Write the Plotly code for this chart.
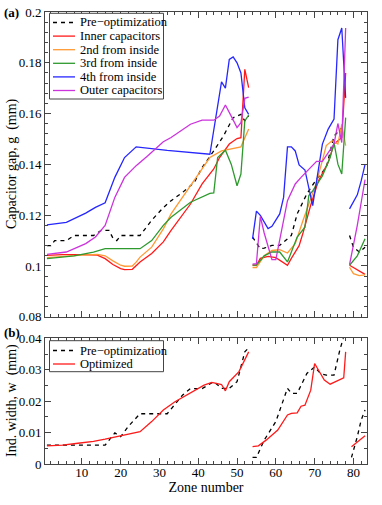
import plotly.graph_objects as go

# ---- panel (a): capacitor gap g (mm) vs zone number; None separates the three sections
zone_pre = [1, 2, 3, 6, 8, 13, 15, 17, 18, 19, 20, 25, 28, 31, 33, 36, 39, 41, 44, 46.5, 49, 51, 52, 53, None,
            54, 56, 57, 59, 61, 64, 65.5, 68, 70.5, 73, 75, 77, 78, None,
            79, 80, 81.5, 83]
gap_pre = [0.108, 0.108, 0.110, 0.110, 0.112, 0.112, 0.114, 0.114, 0.111, 0.110, 0.112, 0.112, 0.118, 0.123,
           0.1257, 0.129, 0.1329, 0.1388, 0.1453, 0.1512, 0.1584, 0.1597, 0.1571, 0.159, None,
           0.1114, 0.1068, 0.107, 0.1081, 0.1081, 0.112, 0.1205, 0.1284, 0.1342, 0.1388, 0.1512, 0.1542, 0.156, None,
           0.112, 0.1074, 0.1055, 0.1074]

zone_inner = [1, 5, 10, 14, 16, 18, 20, 21, 23, 24, 25, 28, 31, 33, 36, 38, 41, 44, 45.5, 48, 50, 51, 52, 53, None,
              54, 55, 56, 58, 60, 62, 63, 64, 66, 67, 68, 69, 71, 73.5, 75, 77, 78, None,
              79, 81, 83]
gap_inner = [0.1042, 0.1045, 0.1045, 0.1043, 0.1029, 0.1006, 0.0990, 0.0986, 0.0987, 0.1000, 0.1016, 0.1049,
             0.1095, 0.114, 0.120, 0.1244, 0.1323, 0.1382, 0.1427, 0.148, 0.1502, 0.1505, 0.1774, 0.1702, None,
             0.1003, 0.1003, 0.103, 0.1038, 0.1033, 0.1015, 0.1003, 0.103, 0.108, 0.113, 0.119, 0.124, 0.1336,
             0.1408, 0.148, 0.1506, 0.176, None,
             0.1003, 0.0985, 0.0967]

zone_2nd = [1, 5, 10, 14, 16, 18, 20, 21, 23, 24, 25, 28, 31, 33, 38, 43, 46, 51, 53, None,
            54, 55, 57, 59, 61, 63, 65, 67, 70.5, 73, 74.5, 76, 77, 78, None,
            79, 80, 81.5, 83]
gap_2nd = [0.1033, 0.1038, 0.1043, 0.1046, 0.1040, 0.102, 0.1003, 0.0999, 0.1000, 0.1015, 0.1035, 0.1074,
           0.1146, 0.1205, 0.1316, 0.1427, 0.1453, 0.1469, 0.1539, None,
           0.0994, 0.0994, 0.104, 0.1061, 0.1064, 0.1051, 0.1088, 0.1179, 0.1329, 0.1474, 0.1493, 0.148,
           0.1558, 0.1474, None,
           0.0995, 0.097, 0.0962, 0.0965]

zone_3rd = [1, 8, 13, 16, 25, 28, 31, 33, 38, 43, 44, 45, 47, 48.5, 50, 51, 52, 53, None,
            54, 55, 57, 59, 61, 63, 65.5, 67.5, 68.5, 69.5, 72, 74, 75, 76, 77, 78, None,
            79, 81, 83]
gap_3rd = [0.1029, 0.1040, 0.1055, 0.1068, 0.1068, 0.110, 0.116, 0.1192, 0.1251, 0.1286, 0.1288, 0.1427,
           0.1456, 0.1401, 0.1316, 0.1362, 0.1571, 0.1594, None,
           0.1003, 0.1003, 0.104, 0.1055, 0.1055, 0.1016, 0.1114, 0.1153, 0.1277, 0.1296, 0.1355, 0.1427,
           0.1486, 0.1401, 0.1362, 0.1584, None,
           0.1003, 0.104, 0.1107]

zone_4th = [1, 6, 11, 13.5, 16, 18.5, 21, 24, 32, 43, 46, 47, 48, 49, 50, 51, 52, 53, None,
            54, 55, 56, 58, 59, 61, 62, 63, 64, 65, 66, 67.5, 69.5, 72, 73.5, 75, 76, 77, 78, None,
            79, 80, 81, 82, 83]
gap_4th = [0.1162, 0.1172, 0.1208, 0.1231, 0.1249, 0.1349, 0.1427, 0.1469, 0.1455, 0.144, 0.1725, 0.170,
           0.1813, 0.1823, 0.180, 0.176, 0.1623, 0.1597, None,
           0.1107, 0.1216, 0.1199, 0.1147, 0.1156, 0.1205, 0.127, 0.1469, 0.1469, 0.1453, 0.1398, 0.1378,
           0.1238, 0.148, 0.1539, 0.1578, 0.1891, 0.1937, 0.1662, None,
           0.1225, 0.125, 0.128, 0.1335, 0.140]

zone_outer = [1, 6, 11, 13.5, 16, 18.5, 21, 24, 27, 31, 33, 38, 41, 44, 45.5, 47, 48.5, 50, 51, 52, 53, None,
              54, 55, 56, 57, 59, 60, 63, 65, 66.5, 68.5, 70.5, 72, 73.5, 75, 76, 77, 78, None,
              79, 80, 81, 82, 83]
gap_outer = [0.1046, 0.1055, 0.1088, 0.1114, 0.116, 0.127, 0.1349, 0.1395, 0.1434, 0.1489, 0.1506, 0.1558,
             0.1574, 0.1574, 0.159, 0.1634, 0.159, 0.1545, 0.1564, 0.166, 0.1665, None,
             0.1007, 0.1009, 0.1195, 0.113, 0.1025, 0.1025, 0.1257, 0.1323, 0.1349, 0.1382, 0.1412, 0.1412,
             0.1447, 0.148, 0.1561, 0.1486, 0.1937, None,
             0.1005, 0.108, 0.116, 0.125, 0.134]

# ---- panel (b): inductor width w (mm)
zone_w_pre = [1, 16, 18.5, 20, 22, 25, 32, 36, 38, 41, 44, 46, 48, 50, 52, 53, None,
              54, 55, 57, 60, 63, 64, 65.5, 68, 70, 71.5, 73, 75, 76.5, 78, None,
              79.5, 81, 82, 83]
w_pre = [0.006, 0.006, 0.0099, 0.0087, 0.012, 0.016, 0.016, 0.022, 0.024, 0.024, 0.0262, 0.0241, 0.0241,
         0.0262, 0.0357, 0.037, None,
         0.0021, 0.0021, 0.0076, 0.0135, 0.0241, 0.0225, 0.0225, 0.0288, 0.0309, 0.0288, 0.0283, 0.0283,
         0.0363, 0.0426, None,
         0.0021, 0.0087, 0.014, 0.0172]

zone_w_opt = [1, 5, 9, 13, 16, 20, 25, 28, 31, 34, 37, 41.5, 43.5, 46, 47, 48, 50.5, 53, None,
              54, 55.5, 57.5, 60.5, 63, 64, 65.5, 66.5, 67.5, 69, 70, 71.5, 72.5, 74, 77.5, 78, None,
              79.5, 83]
w_opt = [0.0058, 0.006, 0.0066, 0.0072, 0.0079, 0.0089, 0.0103, 0.0135, 0.0172, 0.0198, 0.022, 0.0251,
         0.026, 0.0253, 0.0233, 0.0262, 0.0294, 0.0357, None,
         0.0055, 0.0058, 0.0076, 0.0108, 0.0156, 0.0161, 0.0163, 0.0184, 0.0187, 0.0235, 0.032, 0.0288,
         0.0267, 0.0254, 0.0274, 0.0357, None,
         0.0055, 0.009]

FONT = "Liberation Serif"
FRAME = "#444444"
W, H = 382, 505
ML, MR, MT, MB = 45, 15, 12, 41

fig = go.Figure()

series_a = [
    ("Pre\u2212optimization", zone_pre, gap_pre, "black", "4px,4px"),
    ("Inner capacitors", zone_inner, gap_inner, "#ff1a1a", "solid"),
    ("2nd from inside", zone_2nd, gap_2nd, "#ff9933", "solid"),
    ("3rd from inside", zone_3rd, gap_3rd, "#2e9a2e", "solid"),
    ("4th from inside", zone_4th, gap_4th, "#2626ff", "solid"),
    ("Outer capacitors", zone_outer, gap_outer, "#cc33dd", "solid"),
]
series_b = [
    ("Pre\u2212optimization", zone_w_pre, w_pre, "black", "4px,4px"),
    ("Optimized", zone_w_opt, w_opt, "#ff1a1a", "solid"),
]
for name, xs, ys, col, dash in series_a:
    fig.add_trace(go.Scatter(x=xs, y=ys, name=name, mode="lines",
                             line=dict(color=col, width=1.3, dash=dash), xaxis="x", yaxis="y"))
for name, xs, ys, col, dash in series_b:
    fig.add_trace(go.Scatter(x=xs, y=ys, name=name, mode="lines",
                             line=dict(color=col, width=1.3, dash=dash), xaxis="x2", yaxis="y2"))


# compact Mathematica-style legend boxes, drawn in paper coordinates
def px2paper(px, py):
    return (px - ML) / (W - ML - MR), 1 - (py - MT) / (H - MT - MB)


shapes, annotations = [], []


def add_legend(series, top, bottom, first_row, row_gap):
    x0, y0 = px2paper(49.5, top)
    x1, y1 = px2paper(163.5, bottom)
    shapes.append(dict(type="rect", xref="paper", yref="paper", x0=x0, x1=x1, y0=y1, y1=y0,
                       line=dict(color=FRAME, width=1), fillcolor="white", layer="above"))
    for i, (name, _, _, col, dash) in enumerate(series):
        cy = first_row + i * row_gap
        lx0, ly = px2paper(53, cy)
        lx1, _ = px2paper(75, cy)
        shapes.append(dict(type="line", xref="paper", yref="paper", x0=lx0, x1=lx1, y0=ly, y1=ly,
                           line=dict(color=col, width=1.3, dash=dash), layer="above"))
        tx, _ = px2paper(78, cy)
        annotations.append(dict(text=name, xref="paper", yref="paper", x=tx, y=ly,
                                xanchor="left", yanchor="middle", showarrow=False,
                                font=dict(family=FONT, size=12.5, color="black")))


add_legend(series_a, 13.3, 99, 22.5, 13.6)
add_legend(series_b, 340.7, 371.7, 350.5, 13.5)

for label, py in (("(a)", 12.5), ("(b)", 332)):
    lx, ly = px2paper(2, py)
    annotations.append(dict(text="<b>" + label + "</b>", xref="paper", yref="paper", x=lx, y=ly,
                            xanchor="left", yanchor="middle", showarrow=False,
                            font=dict(family=FONT, size=13, color="black")))

# rotated y titles, placed where the reference has them
for title, py in (("Capacitor gap, g\u00a0 (mm)", 164), ("Ind. width, w\u00a0 (mm)", 401)):
    tx, ty = px2paper(12, py)
    annotations.append(dict(text=title, xref="paper", yref="paper", x=tx, y=ty, textangle=-90,
                            xanchor="center", yanchor="middle", showarrow=False,
                            font=dict(family=FONT, size=14, color="black")))

frame = dict(showline=True, linecolor=FRAME, linewidth=1, mirror="ticks", ticks="inside",
             ticklen=6, tickcolor=FRAME, showgrid=False, zeroline=False, automargin=False,
             tickfont=dict(family=FONT, size=13, color="black"))
xmin = dict(dtick=2, ticks="inside", ticklen=3, tickcolor=FRAME, showgrid=False)

fig.update_layout(
    width=W, height=H,
    margin=dict(l=ML, r=MR, t=MT, b=MB),
    plot_bgcolor="white", paper_bgcolor="white",
    font=dict(family=FONT, size=12, color="black"),
    showlegend=False,
    xaxis=dict(frame, domain=[0, 1], range=[0.5, 83.5], dtick=10, showticklabels=False,
               anchor="y", minor=xmin),
    yaxis=dict(frame, domain=[0.3257, 1], range=[0.08, 0.2], dtick=0.02, anchor="x",
               minor=dict(dtick=0.004, ticks="inside", ticklen=3, tickcolor=FRAME, showgrid=False)),
    xaxis2=dict(frame, domain=[0, 1], range=[0.5, 83.5], dtick=10, anchor="y2", minor=xmin,
                ticklabelstandoff=-4,
                title=dict(text="Zone number", font=dict(family=FONT, size=14), standoff=0)),
    yaxis2=dict(frame, domain=[0, 0.278], range=[0, 0.04], dtick=0.01, anchor="x2",
                minor=dict(dtick=0.005, ticks="inside", ticklen=3, tickcolor=FRAME, showgrid=False)),
    shapes=shapes,
    annotations=annotations,
)

# the page's default body margin would shift the chart by 8 px
fig.write_html("out.html", config={"displayModeBar": False},
               post_script="document.body.style.margin='0';document.body.style.overflow='hidden';")
